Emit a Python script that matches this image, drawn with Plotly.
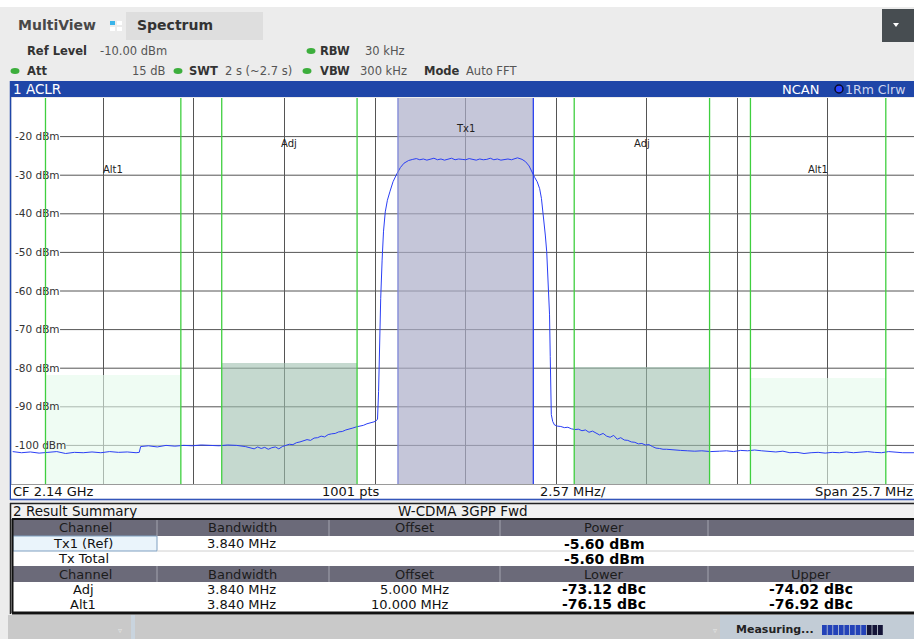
import plotly.graph_objects as go

W, H = 914, 639
FONT = "DejaVu Sans"

# ------------------------------------------------------------------ data
# measured trace read off the screen: (frequency offset from CF in MHz, level in dBm)
trace_points = [
    (-12.85, -101.6), (-12.6, -101.9), (-12.35, -101.7), (-12.1, -102.0), (-11.85, -101.8),
    (-11.6, -101.6), (-11.35, -102.1), (-11.1, -101.8), (-10.85, -101.9), (-10.6, -101.7),
    (-10.35, -101.9), (-10.1, -101.6), (-9.85, -101.8), (-9.6, -101.7), (-9.35, -101.9),
    (-9.26, -101.8), (-9.22, -100.3), (-9.0, -100.1), (-8.75, -100.4), (-8.5, -100.0),
    (-8.25, -100.2), (-8.0, -100.0), (-7.75, -100.1), (-7.5, -99.9), (-7.25, -100.0),
    (-7.0, -100.1), (-6.75, -99.9), (-6.5, -100.0), (-6.25, -100.3), (-6.1, -100.7),
    (-6.0, -100.9), (-5.9, -100.4), (-5.8, -100.8), (-5.7, -100.5), (-5.6, -101.0),
    (-5.5, -100.6), (-5.4, -100.4), (-5.3, -100.9), (-5.2, -100.3), (-5.1, -100.0),
    (-5.0, -99.7), (-4.9, -99.8), (-4.8, -99.3), (-4.7, -99.1), (-4.6, -98.9),
    (-4.5, -98.5), (-4.4, -98.7), (-4.3, -98.1), (-4.2, -98.0), (-4.1, -97.6),
    (-4.0, -97.8), (-3.9, -97.2), (-3.8, -97.0), (-3.7, -96.9), (-3.6, -96.5),
    (-3.5, -96.4), (-3.4, -96.0), (-3.3, -95.8), (-3.2, -95.5), (-3.1, -95.2),
    (-3.0, -95.0), (-2.9, -94.8), (-2.8, -94.4), (-2.7, -94.2), (-2.6, -93.9),
    (-2.55, -93.7), (-2.5, -93.2), (-2.47, -86.0), (-2.44, -72.0), (-2.41, -62.0),
    (-2.37, -52.0), (-2.33, -44.5), (-2.28, -39.5), (-2.22, -36.5), (-2.15, -34.3),
    (-2.06, -31.7), (-1.95, -29.6), (-1.85, -28.0), (-1.75, -26.9), (-1.62, -26.2),
    (-1.5, -25.9), (-1.4, -25.7), (-1.3, -26.0), (-1.2, -25.8), (-1.1, -26.1),
    (-1.0, -25.9), (-0.9, -25.6), (-0.8, -26.0), (-0.7, -25.8), (-0.6, -26.1),
    (-0.5, -25.9), (-0.4, -25.6), (-0.3, -26.0), (-0.2, -25.8), (-0.1, -25.9),
    (0.0, -26.0), (0.1, -25.7), (0.2, -25.9), (0.3, -26.1), (0.4, -25.8),
    (0.5, -26.0), (0.6, -25.9), (0.7, -25.6), (0.8, -26.0), (0.9, -25.8),
    (1.0, -26.1), (1.1, -25.9), (1.2, -25.8), (1.3, -26.0), (1.4, -25.7),
    (1.47, -25.5), (1.6, -25.9), (1.7, -26.5), (1.8, -27.6), (1.89, -29.5),
    (1.96, -30.6), (2.03, -31.7), (2.1, -33.5), (2.15, -36.0), (2.22, -41.2),
    (2.26, -45.5), (2.3, -49.8), (2.35, -58.0), (2.38, -66.0), (2.4, -77.0),
    (2.43, -92.0), (2.47, -93.8), (2.52, -94.7), (2.6, -95.0), (2.7, -95.1),
    (2.8, -95.4), (2.9, -95.3), (3.0, -95.7), (3.1, -95.9), (3.2, -95.8),
    (3.3, -96.2), (3.4, -96.0), (3.5, -96.6), (3.6, -96.3), (3.7, -96.9),
    (3.8, -97.3), (3.9, -96.9), (4.0, -97.6), (4.1, -97.9), (4.2, -97.4),
    (4.3, -98.4), (4.4, -98.0), (4.5, -98.6), (4.6, -98.7), (4.7, -99.1),
    (4.8, -99.2), (4.9, -99.6), (5.0, -99.5), (5.1, -99.9), (5.2, -99.8),
    (5.3, -100.3), (5.4, -100.7), (5.5, -100.8), (5.6, -101.0), (5.7, -101.0),
    (5.9, -101.2), (6.1, -101.3), (6.3, -101.4), (6.5, -101.5), (6.7, -101.4),
    (6.95, -101.6), (7.2, -101.5), (7.4, -101.4), (7.6, -101.6), (7.8, -101.3),
    (8.0, -101.4), (8.2, -101.2), (8.4, -101.4), (8.6, -101.6), (8.8, -101.7),
    (9.0, -101.5), (9.2, -101.9), (9.4, -101.8), (9.6, -102.1), (9.8, -101.9),
    (10.0, -101.8), (10.2, -102.0), (10.4, -101.8), (10.6, -101.9), (10.8, -101.7),
    (11.0, -101.9), (11.2, -101.8), (11.4, -101.6), (11.6, -101.8), (11.8, -101.9),
    (12.0, -101.6), (12.2, -101.8), (12.4, -101.9), (12.72, -101.9),
]
trace_freq_mhz = [p[0] for p in trace_points]
trace_level_dbm = [p[1] for p in trace_points]

channel_names = ["Alt1", "Adj", "Tx1", "Adj", "Alt1"]
channel_offset_mhz = [-10.0, -5.0, 0.0, 5.0, 10.0]
channel_bw_mhz = 3.84
tx_power_dbm = -5.60
aclr_lower_dbc = [-73.12, -76.15]   # Adj, Alt1
aclr_upper_dbc = [-74.02, -76.92]   # Adj, Alt1

ref_level_dbm = -10.0
bottom_level_dbm = -110.0
y_tick_vals = [-20, -30, -40, -50, -60, -70, -80, -90, -100]
y_tick_text = [f"{v} dBm" for v in y_tick_vals]
div_mhz = 2.57
x_grid_vals = [k * div_mhz for k in range(-4, 5)]

table_hdr1 = ["Channel", "Bandwidth", "Offset", "Power", ""]
table_rows1 = [["Tx1 (Ref)", "3.840 MHz", "", "-5.60 dBm", ""],
               ["Tx Total", "", "", "-5.60 dBm", ""]]
table_hdr2 = ["Channel", "Bandwidth", "Offset", "Lower", "Upper"]
table_rows2 = [["Adj", "3.840 MHz", "5.000 MHz", "-73.12 dBc", "-74.02 dBc"],
               ["Alt1", "3.840 MHz", "10.000 MHz", "-76.15 dBc", "-76.92 dBc"]]

# channel powers shown as bars (dBm)
channel_power = [tx_power_dbm + aclr_lower_dbc[1], tx_power_dbm + aclr_lower_dbc[0],
                 tx_power_dbm,
                 tx_power_dbm + aclr_upper_dbc[0], tx_power_dbm + aclr_upper_dbc[1]]

# ------------------------------------------------------------------ helpers
shapes, ann = [], []


def X(px):
    return px / W


def Y(py):
    return 1 - py / H


def rect(x0, y0, x1, y1, fill, line=None, lw=0):
    shapes.append(dict(type="rect", xref="paper", yref="paper",
                       x0=X(x0), x1=X(x1), y0=Y(y1), y1=Y(y0), fillcolor=fill,
                       line=dict(color=line if line else fill, width=lw), layer="above"))


def hline(x0, x1, y, color, w=1):
    shapes.append(dict(type="line", xref="paper", yref="paper", x0=X(x0), x1=X(x1),
                       y0=Y(y), y1=Y(y), line=dict(color=color, width=w), layer="above"))


def vline(x, y0, y1, color, w=1):
    shapes.append(dict(type="line", xref="paper", yref="paper", x0=X(x), x1=X(x),
                       y0=Y(y0), y1=Y(y1), line=dict(color=color, width=w), layer="above"))


def text(x, y, s, size=12, color="#222", anchor="left", bold=False):
    ann.append(dict(xref="paper", yref="paper", x=X(x), y=Y(y),
                    text=f"<b>{s}</b>" if bold else s, showarrow=False,
                    xanchor=anchor, yanchor="middle",
                    font=dict(family=FONT, size=size, color=color)))


def dot(x, y):
    shapes.append(dict(type="circle", xref="paper", yref="paper",
                       x0=X(x - 4.5), x1=X(x + 4.5), y0=Y(y + 3), y1=Y(y - 3),
                       fillcolor="#3cae3c", line=dict(width=0), layer="above"))


# ------------------------------------------------------------------ header
rect(0, 0, 914, 7, "white")
rect(126, 12, 263, 40, "#dedede")
text(16, 25, "MultiView", 14, "#484848", bold=True)
rect(110, 21, 115, 25, "#3ab4ea")
rect(117, 21, 122, 25, "white")
rect(110, 27, 115, 31, "white")
rect(117, 27, 122, 31, "white")
text(135, 25, "Spectrum", 14, "#333", bold=True)
rect(882, 9, 914, 42, "#474d51")
shapes.append(dict(type="path", xref="paper", yref="paper", layer="above",
                   path=f"M {X(893)},{Y(23)} L {X(899)},{Y(23)} L {X(896)},{Y(27)} Z",
                   fillcolor="white", line=dict(width=0)))

text(25, 51, "Ref Level", 11.5, "#333", bold=True)
text(98, 51, "-10.00 dBm", 11.5, "#555")
dot(311, 51)
text(318, 51, "RBW", 11.5, "#333", bold=True)
text(363, 51, "30 kHz", 11.5, "#555")
dot(15, 71)
text(25, 71, "Att", 11.5, "#333", bold=True)
text(168, 71, "15 dB", 11.5, "#555", anchor="right")
dot(178, 71)
text(187, 71, "SWT", 11.5, "#333", bold=True)
text(223, 71, "2 s (~2.7 s)", 11.5, "#555")
dot(307, 71)
text(318, 71, "VBW", 11.5, "#333", bold=True)
text(409, 71, "300 kHz", 11.5, "#555", anchor="right")
text(422, 71, "Mode", 11.5, "#333", bold=True)
text(464, 71, "Auto FFT", 11.5, "#555")

# window 1 title bar
rect(10, 81, 914, 97, "#1f46a8")
text(11, 89, "1 ACLR", 13.5, "white")
text(780, 89, "NCAN", 13, "white")
shapes.append(dict(type="circle", xref="paper", yref="paper", layer="above",
                   x0=X(835), x1=X(843), y0=Y(93), y1=Y(85),
                   fillcolor="#2a44ff", line=dict(color="#0b0b2a", width=1.5)))
text(843, 89, "1Rm Clrw", 12.5, "#cdd5ee")

# window frame and footer row
vline(10.5, 81, 500, "#1f46a8", 1.5)
rect(11, 484.5, 914, 498.5, "white")
hline(11, 914, 484.5, "#9a9a9a", 1)
hline(10, 914, 499.5, "#3355bb", 1.5)
text(11, 491, "CF 2.14 GHz", 13, "#111")
text(320, 491, "1001 pts", 13, "#111")
text(538, 491, "2.57 MHz/", 13, "#111")
text(915, 491, "Span 25.7 MHz", 13, "#111", anchor="right")

# ------------------------------------------------------------------ result summary
rect(10, 503, 914, 519, "#f1f1f1")
hline(10, 914, 503.5, "#222", 1.5)
vline(10.5, 503, 614, "#222", 1.5)
text(11, 511, "2 Result Summary", 13.5, "#111")
text(463, 511, "W-CDMA 3GPP Fwd", 13.5, "#111", anchor="center")

col_edges = [13, 157, 329, 500, 708, 914]
col_centers = [(a + b) / 2 for a, b in zip(col_edges[:-1], col_edges[1:])]
HDR = "#6b6a79"
rect(13, 519, 914, 536, HDR)
rect(13, 536, 914, 566, "white")
rect(13, 566, 914, 582, HDR)
rect(13, 582, 914, 612, "white")
rect(13, 536, 157, 551, "#eaf4fb", "#7f9fc0", 1)
hline(157, 914, 551, "#d0d0d0", 1)
for xe in col_edges[1:-1]:
    vline(xe, 519, 536, "#a4a4b0", 1)
    vline(xe, 566, 582, "#a4a4b0", 1)
hline(12, 914, 519, "#111", 2)
vline(12.5, 519, 613, "#111", 2)
hline(12, 914, 613, "#111", 3)

for ci, s in enumerate(table_hdr1):
    if s:
        text(col_centers[ci], 527.5, s, 13, "#1c1c1c", anchor="center")
for ci, s in enumerate(table_hdr2):
    if s:
        text(col_centers[ci], 574, s, 13, "#1c1c1c", anchor="center")
for rows, ys in ((table_rows1, [543.5, 558.5]), (table_rows2, [589, 604])):
    for row, yy in zip(rows, ys):
        for ci, s in enumerate(row):
            if not s:
                continue
            if ci >= 3:
                text(col_centers[ci], yy, s, 14, "#000", anchor="center", bold=True)
            elif ci == 2:
                text(451, yy, s, 13, "#111", anchor="right")
            else:
                text(col_centers[ci] - 2, yy, s, 13, "#111", anchor="center")

# status bar
rect(8, 615, 720, 639, "#c9c9c9")
rect(131, 615, 135, 639, "#c9d4de")
rect(720, 615, 914, 639, "#c2ccd6")
text(120, 630, "▿", 8, "#e6e6e6", anchor="center")
text(715, 630, "▿", 8, "#e6e6e6", anchor="center")
text(734, 629.5, "Measuring...", 11, "#222", bold=True)
for k in range(11):
    x0 = 822 + k * 5.6
    rect(x0, 625, x0 + 4.8, 635, "#2342b8" if k < 8 else "#141438")

# ------------------------------------------------------------------ diagram
fig = go.Figure()

bar_colors = ["rgba(228,250,235,0.6)", "rgba(158,192,175,0.6)", "rgba(172,174,201,0.7)",
              "rgba(158,192,175,0.6)", "rgba(228,250,235,0.6)"]
fig.add_trace(go.Bar(
    x=channel_offset_mhz,
    y=[p - bottom_level_dbm for p in channel_power],
    base=bottom_level_dbm,
    width=[channel_bw_mhz] * len(channel_offset_mhz),
    marker=dict(color=bar_colors, line=dict(width=0)),
    hoverinfo="skip", showlegend=False))

fig.add_trace(go.Scatter(
    x=trace_freq_mhz, y=trace_level_dbm, mode="lines",
    line=dict(color="#2b3ff5", width=1), hoverinfo="skip", showlegend=False))

# horizontal grid lines (start right of their labels)
for v, t in zip(y_tick_vals, y_tick_text):
    shapes.append(dict(type="line", xref="paper", yref="y",
                       x0=X(17 + 6.15 * len(t)), x1=1, y0=v, y1=v,
                       line=dict(color="#555", width=1), layer="below"))

# channel edges
for name, off in zip(channel_names, channel_offset_mhz):
    for edge in (off - channel_bw_mhz / 2, off + channel_bw_mhz / 2):
        if name == "Tx1":
            col = "#7d86d6" if edge < 0 else "#2a40f0"
        else:
            col = "#3fcf3f"
        shapes.append(dict(type="line", xref="x", yref="y domain", x0=edge, x1=edge,
                           y0=0, y1=1, line=dict(color=col, width=1.3), layer="above"))

label_level = {"Tx1": -17.8, "Adj": -21.9, "Alt1": -28.4}
for name, off in zip(channel_names, channel_offset_mhz):
    ann.append(dict(xref="x", yref="y", x=off, y=label_level[name], text=name,
                    showarrow=False, xanchor="center", yanchor="middle",
                    font=dict(family=FONT, size=10, color="#222")))

fig.update_layout(
    width=W, height=H, autosize=False,
    margin=dict(l=0, r=0, t=0, b=0),
    paper_bgcolor="#ececec", plot_bgcolor="white",
    barmode="overlay", bargap=0,
    font=dict(family=FONT),
    xaxis=dict(domain=[X(12), 1.0], range=[-12.87, 12.72],
               tickvals=x_grid_vals, showticklabels=False, ticks="",
               showgrid=True, gridcolor="#555", gridwidth=1,
               zeroline=False, showline=False, fixedrange=True),
    yaxis=dict(domain=[Y(484), Y(98)], range=[bottom_level_dbm, ref_level_dbm],
               tickvals=y_tick_vals, ticktext=y_tick_text,
               ticklabelposition="inside", ticks="",
               tickfont=dict(family=FONT, size=10.5, color="#333"),
               showgrid=False, zeroline=False, showline=False, fixedrange=True),
    shapes=shapes, annotations=ann, showlegend=False,
)

fig.write_html("out.html", config={"displayModeBar": False},
               post_script="document.body.style.margin='0';"
                           "document.body.style.overflow='hidden';")
